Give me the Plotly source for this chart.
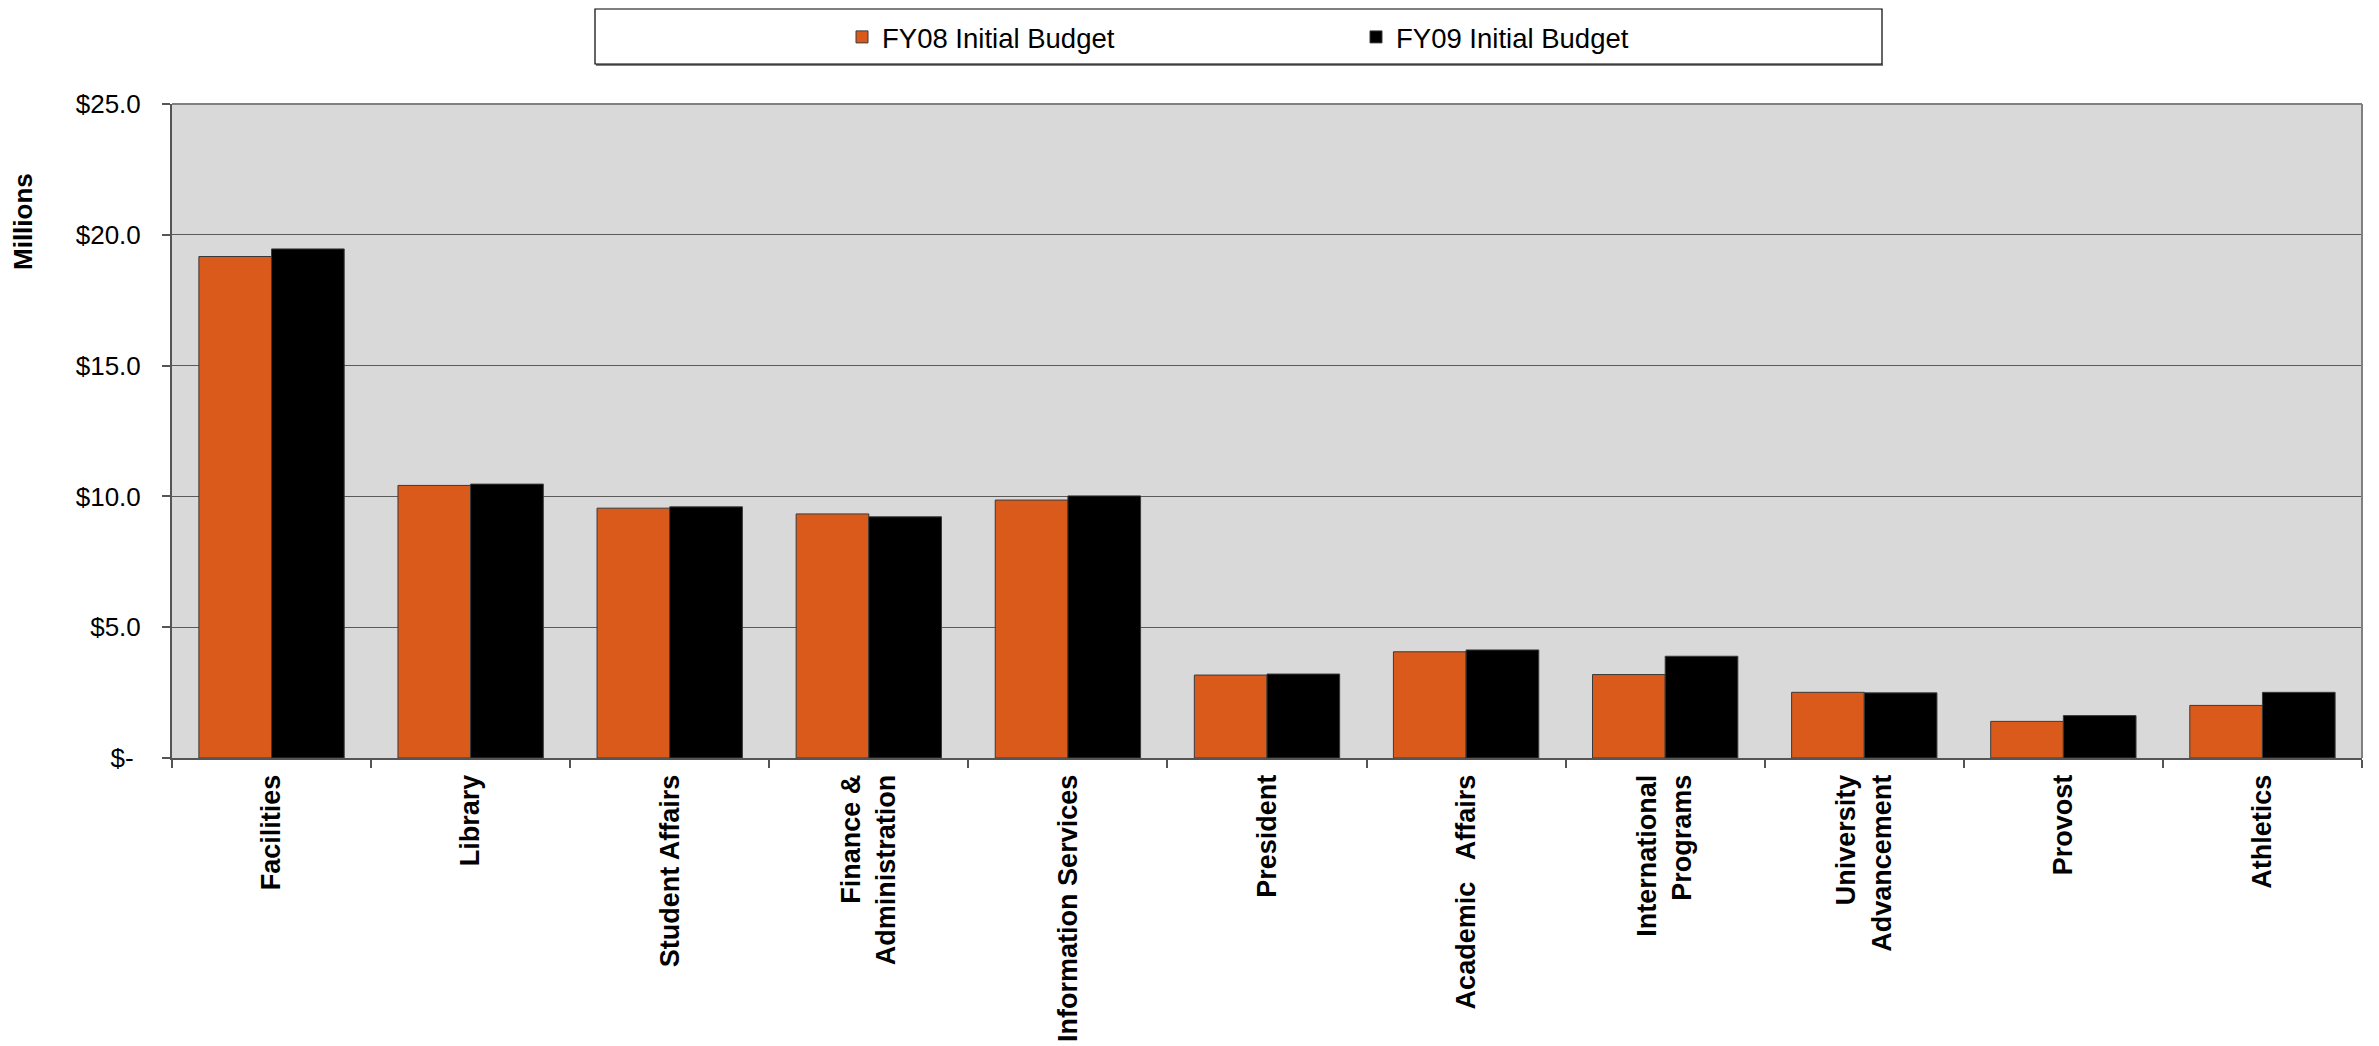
import plotly.graph_objects as go

categories = ["Facilities", "Library", "Student Affairs", "Finance &<br>Administration",
              "Information Services", "President", "Academic\u00a0\u00a0 Affairs",
              "International<br>Programs", "University<br>Advancement", "Provost", "Athletics"]
fy08 = [19.17, 10.42, 9.55, 9.33, 9.86, 3.17, 4.06, 3.19, 2.51, 1.40, 2.01]
fy09 = [19.46, 10.47, 9.60, 9.22, 10.02, 3.21, 4.13, 3.89, 2.49, 1.62, 2.51]
series_names = ["FY08 Initial Budget", "FY09 Initial Budget"]
tick_vals = [0, 5, 10, 15, 20, 25]
tick_text = ["$-\u00a0", "$5.0", "$10.0", "$15.0", "$20.0", "$25.0"]

W, H = 2379, 1046
OFF = 8  # page body margin
# plot area in page coordinates
PL, PR, PT, PB = 172, 2362, 104, 758
PW, PH = PR - PL, PB - PT

def px(x):
    return (x - PL) / PW

def py(y):
    return (PB - y) / PH

FONT = "Liberation Sans, Arial, sans-serif"

fig = go.Figure()
fig.add_trace(go.Bar(x=categories, y=fy08, name=series_names[0],
                     marker=dict(color="#D95A1B", line=dict(color="#3a3a3a", width=1)),
                     legend="legend", showlegend=True))
fig.add_trace(go.Bar(x=categories, y=fy09, name=series_names[1],
                     marker=dict(color="#000000", line=dict(color="#3a3a3a", width=1)),
                     legend="legend2", showlegend=True))

shapes = [
    dict(type="line", xref="paper", yref="paper", x0=px(596), x1=px(1883), y0=py(65), y1=py(65),
         line=dict(color="#808080", width=2)),
    dict(type="rect", xref="paper", yref="paper", x0=px(595), x1=px(1882), y0=py(64), y1=py(9),
         line=dict(color="#000000", width=1.2), fillcolor="rgba(0,0,0,0)"),
    dict(type="line", xref="paper", yref="paper", x0=0, x1=1, y0=1, y1=1,
         line=dict(color="#808080", width=2)),
    dict(type="line", xref="paper", yref="paper", x0=1, x1=1, y0=0, y1=1,
         line=dict(color="#808080", width=2)),
]

leg_font = dict(family=FONT, size=27.5, color="#000000")
fig.update_layout(
    width=W, height=H,
    margin=dict(l=PL - OFF, r=W - (PR - OFF), t=PT - OFF, b=H - (PB - OFF), pad=0,
                autoexpand=False),
    paper_bgcolor="#FFFFFF",
    plot_bgcolor="#D9D9D9",
    barmode="group",
    bargap=0.27,
    bargroupgap=0,
    showlegend=True,
    font=dict(family=FONT, color="#000000"),
    shapes=shapes,
    legend=dict(orientation="h", x=px(842), y=py(37), xanchor="left", yanchor="middle",
                font=leg_font, bgcolor="rgba(0,0,0,0)"),
    legend2=dict(orientation="h", x=px(1356), y=py(37), xanchor="left", yanchor="middle",
                 font=leg_font, bgcolor="rgba(0,0,0,0)"),
    annotations=[dict(text="<b>Millions</b>", xref="paper", yref="paper",
                      x=px(23), y=py(222), xanchor="center", yanchor="middle",
                      textangle=-90, showarrow=False,
                      font=dict(family=FONT, size=26, color="#000000"))],
)

fig.update_xaxes(
    type="category",
    tickangle=-90,
    tickfont=dict(family=FONT, size=27, color="#000000", weight="bold"),
    ticks="outside", tickson="boundaries", ticklen=8, tickcolor="#555555", tickwidth=1.5,
    showline=True, linecolor="#555555", linewidth=2,
    showgrid=False,
    ticklabelstandoff=4,
)
fig.update_yaxes(
    range=[0, 25],
    tickvals=tick_vals, ticktext=tick_text,
    tickfont=dict(family=FONT, size=26, color="#000000"),
    ticks="outside", ticklen=8, tickcolor="#555555", tickwidth=1.5,
    showline=True, linecolor="#555555", linewidth=2,
    showgrid=True, gridcolor="#5a5a5a", gridwidth=1.3,
    zeroline=False,
    ticklabelstandoff=16,
)

fig.write_html("out.html")
